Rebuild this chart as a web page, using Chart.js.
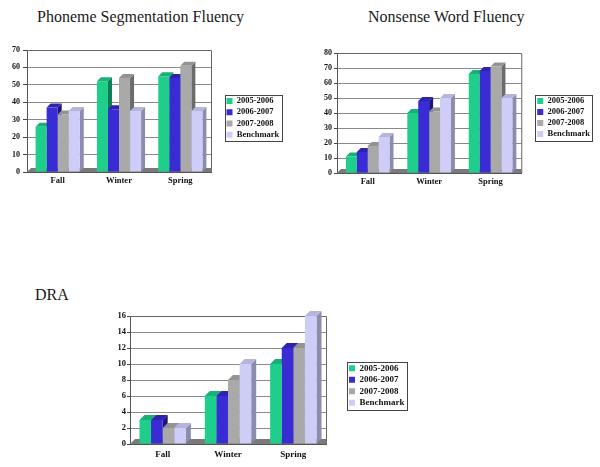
<!DOCTYPE html>
<html><head><meta charset="utf-8">
<script src="https://cdn.jsdelivr.net/npm/chart.js@4/dist/chart.umd.min.js"></script>
<style>
html,body{margin:0;padding:0;background:#fff;width:600px;height:467px;overflow:hidden;}
.t{position:absolute;font-family:"Liberation Serif","Times New Roman",serif;font-size:16px;line-height:16px;color:#1a1a1a;white-space:nowrap;}
.c{position:absolute;}
canvas{display:block;}
</style></head><body>
<div class="t" style="left:37px;top:9px">Phoneme Segmentation Fluency</div>
<div class="t" style="left:368px;top:9px">Nonsense Word Fluency</div>
<div class="t" style="left:35px;top:287px">DRA</div>
<div class="c" style="left:0px;top:40px"><canvas id="c1" width="300" height="150"></canvas></div>
<div class="c" style="left:300px;top:40px"><canvas id="c2" width="300" height="150"></canvas></div>
<div class="c" style="left:100px;top:300px"><canvas id="c3" width="320" height="167"></canvas></div>
<script>
// ---- data ----
const categories = ['Fall', 'Winter', 'Spring'];
const seriesNames = ['2005-2006', '2006-2007', '2007-2008', 'Benchmark'];

const psf2005 = [26, 52, 55];
const psf2006 = [37, 36, 54];
const psf2007 = [33, 54, 61];
const psfBench = [35, 35, 35];

const nwf2005 = [11, 40, 66];
const nwf2006 = [14, 48, 68];
const nwf2007 = [18, 41, 71];
const nwfBench = [24, 50, 50];

const dra2005 = [3, 6, 10];
const dra2006 = [3, 6, 12];
const dra2007 = [2, 8, 12];
const draBench = [2, 10, 16];

const psfAxis = [0, 70, 10];
const nwfAxis = [0, 80, 10];
const draAxis = [0, 16, 2];

// ---- styles ----
const frontColors = ['#1fce8a', '#3a2cd5', '#a9a9a9', '#cdcdf7'];
const topColors = ['#18b077', '#2e23b0', '#939393', '#b4b4dc'];
const sideColors = ['#0b7d55', '#1c1480', '#6b6b6b', '#8c8cae'];
const SERIF = '"Liberation Serif","Times New Roman",serif';

const bar3d = {
  id: 'bar3d',
  beforeDatasetsDraw(chart, args, opts) {
    const ctx = chart.ctx, a = chart.chartArea, d = opts.depth;
    ctx.save();
    ctx.strokeStyle = '#666'; ctx.lineWidth = 1;
    ctx.beginPath();
    ctx.moveTo(a.left, a.top + 0.5); ctx.lineTo(a.right + 0.5, a.top + 0.5); ctx.lineTo(a.right + 0.5, a.bottom);
    ctx.stroke();
    ctx.fillStyle = '#7a7a7a';
    ctx.beginPath();
    ctx.moveTo(a.left, a.bottom); ctx.lineTo(a.left + d, a.bottom - d);
    ctx.lineTo(a.right, a.bottom - d); ctx.lineTo(a.right + 1, a.bottom);
    ctx.closePath(); ctx.fill();
    chart.data.datasets.forEach((ds, i) => {
      const meta = chart.getDatasetMeta(i);
      meta.data.forEach(el => {
        const p = el.getProps(['x', 'y', 'base', 'width'], true);
        const l = p.x - p.width / 2, r = p.x + p.width / 2;
        ctx.fillStyle = sideColors[i];
        ctx.beginPath();
        ctx.moveTo(r, p.y); ctx.lineTo(r + d, p.y - d); ctx.lineTo(r + d, p.base - d); ctx.lineTo(r, p.base);
        ctx.closePath(); ctx.fill();
        ctx.fillStyle = topColors[i];
        ctx.beginPath();
        ctx.moveTo(l, p.y); ctx.lineTo(l + d, p.y - d); ctx.lineTo(r + d, p.y - d); ctx.lineTo(r, p.y);
        ctx.closePath(); ctx.fill();
      });
    });
    ctx.restore();
  },
  afterDraw(chart) {
    const hb = chart.legend && chart.legend.legendHitBoxes;
    if (!hb || !hb.length) return;
    const ctx = chart.ctx;
    let left = Infinity, right = -Infinity;
    hb.forEach(h => { left = Math.min(left, h.left); right = Math.max(right, h.left + h.width); });
    const top = hb[0].top, bottom = hb[hb.length - 1].top + hb[hb.length - 1].height;
    ctx.save();
    ctx.strokeStyle = '#444'; ctx.lineWidth = 1;
    ctx.strokeRect(Math.round(left - 2) + 0.5, Math.round(top - 2) + 0.5, Math.round(right - left + 4), Math.round(bottom - top + 4));
    ctx.restore();
  }
};

function makeChart(id, series, axis, L) {
  const canvas = document.getElementById(id);
  const W = canvas.width, H = canvas.height;
  const config = {
    type: 'bar',
    data: {
      labels: categories,
      datasets: series.map((vals, i) => ({
        label: seriesNames[i], data: vals, yAxisID: 'y',
        backgroundColor: frontColors[i], borderWidth: 0,
        barPercentage: 1, categoryPercentage: L.catPct
      }))
    },
    options: {
      responsive: false, animation: false, devicePixelRatio: 1,
      layout: { padding: { top: L.top, left: 0, bottom: 0, right: 10 } },
      scales: {
        x: {
          grid: { display: false, drawTicks: false },
          border: { display: true, color: '#555' },
          ticks: { font: { family: SERIF, size: L.xFont, weight: 'bold' }, color: '#111', padding: L.xPad },
          afterFit(s) { s.height = H - L.bottom; }
        },
        y: {
          min: axis[0], max: axis[1],
          ticks: { stepSize: axis[2], font: { family: SERIF, size: L.yFont, weight: 'bold' }, color: '#111', padding: L.yPad },
          grid: { color: '#8a8a8a', lineWidth: 1, drawTicks: true, tickLength: L.tl, tickColor: '#444' },
          border: { display: true, color: '#555' },
          afterFit(s) { s.width = L.left; }
        },
        gap: {
          type: 'linear', position: 'right', display: false,
          grid: { display: false, drawTicks: false }, border: { display: false },
          ticks: { display: false },
          afterFit(s) { s.width = L.gap; }
        }
      },
      plugins: {
        tooltip: { enabled: false },
        legend: {
          position: 'right', align: 'start',
          title: { display: true, text: '', font: { size: 1, lineHeight: 1 }, padding: { top: 0, bottom: L.legTop } },
          labels: {
            boxWidth: 6, boxHeight: 6, padding: L.legPad, color: '#111',
            font: { family: SERIF, size: L.legFont, weight: 'bold' }
          }
        },
        bar3d: { depth: L.depth }
      }
    },
    plugins: [bar3d]
  };
  const ch = new Chart(canvas.getContext('2d'), config);
  ch.options.layout.padding.right = Math.max(0, W - L.right - L.gap - ch.legend.width);
  ch.update();
  return ch;
}

makeChart('c1', [psf2005, psf2006, psf2007, psfBench], psfAxis,
  { top: 10, bottom: 132, left: 27, right: 211, gap: 12.75, catPct: 0.72, xFont: 8.5, xPad: 4, yFont: 8, yPad: 3, tl: 4,
    legTop: 43, legPad: 2.75, legFont: 8.5, depth: 4 });
makeChart('c2', [nwf2005, nwf2006, nwf2007, nwfBench], nwfAxis,
  { top: 13, bottom: 133, left: 37, right: 223, gap: 13.5, catPct: 0.71, xFont: 8.5, xPad: 4, yFont: 8, yPad: 2, tl: 3,
    legTop: 40.25, legPad: 2.5, legFont: 8.5, depth: 4 });
makeChart('c3', [dra2005, dra2006, dra2007, draBench], draAxis,
  { top: 16, bottom: 144, left: 30, right: 226, gap: 20.5, catPct: 0.71, xFont: 9, xPad: 5, yFont: 8.5, yPad: 1, tl: 3,
    legTop: 44.3, legPad: 2.5, legFont: 9, depth: 5 });
</script>
</body></html>
